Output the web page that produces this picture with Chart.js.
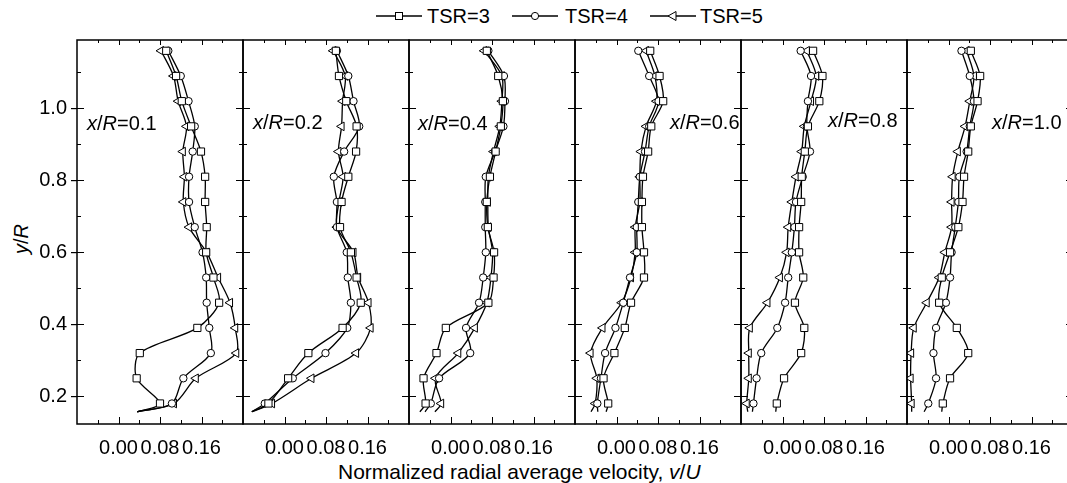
<!DOCTYPE html>
<html>
<head>
<meta charset="utf-8">
<script src="https://cdn.jsdelivr.net/npm/chart.js@4/dist/chart.umd.min.js"></script>
<style>
  html, body { margin: 0; padding: 0; background: #fff; }
  #wrap { position: relative; width: 1067px; height: 483px; overflow: hidden;
          font-family: "Liberation Sans", Arial, sans-serif; color: #000; }
  #wrap canvas { position: absolute; top: 0; }
  .txt { position: absolute; white-space: nowrap; font-size: 20px; line-height: 20px; }
  .leg { position: absolute; top: 6px; height: 20px; white-space: nowrap; font-size: 20px; line-height: 20px; }
  .leg svg { position: absolute; left: 0; top: 4px; }
  .leg span { position: absolute; top: 0; }
</style>
</head>
<body>
<div id="wrap">
  <div class="leg" style="left:376px">
    <svg width="48" height="12"><line x1="0" y1="6" x2="46" y2="6" stroke="#000" stroke-width="1.3"/><rect x="19.5" y="2.5" width="7" height="7" fill="#fff" stroke="#000"/></svg>
    <span style="left:51px">TSR=3</span>
  </div>
  <div class="leg" style="left:512px">
    <svg width="48" height="12"><line x1="0" y1="6" x2="46" y2="6" stroke="#000" stroke-width="1.3"/><circle cx="23" cy="6" r="3.6" fill="#fff" stroke="#000"/></svg>
    <span style="left:53px">TSR=4</span>
  </div>
  <div class="leg" style="left:650px">
    <svg width="48" height="12"><line x1="0" y1="6" x2="46" y2="6" stroke="#000" stroke-width="1.3"/><polygon points="18,6 26,1.5 26,10.5" fill="#fff" stroke="#000"/></svg>
    <span style="left:50px">TSR=5</span>
  </div>

  <div class="txt" style="left:11px;top:244px;transform:translate(0,-50%) rotate(-90deg);transform-origin:10px 50%;"><i>y</i>/<i>R</i></div>
  <div class="txt" style="left:338px;top:461px;font-size:21px;line-height:21px;">Normalized radial average velocity, <i>v</i>/<i>U</i></div>
</div>

<script>
// y/R stations shared by every profile (first entry is the unmarked end of each curve)
const yLevels = [0.157, 0.18, 0.25, 0.32, 0.39, 0.46, 0.53, 0.60, 0.67, 0.74, 0.81, 0.88, 0.95, 1.02, 1.09, 1.16];

// radial average velocity v/U, bottom to top, one array per downstream station and tip speed ratio
const tsr3_x01 = [0.036, 0.080, 0.035, 0.041, 0.152, 0.194, 0.183, 0.169, 0.170, 0.167, 0.167, 0.159, 0.140, 0.122, 0.111, 0.092];
const tsr4_x01 = [0.036, 0.103, 0.125, 0.178, 0.175, 0.170, 0.169, 0.162, 0.147, 0.136, 0.136, 0.143, 0.147, 0.135, 0.120, 0.096];
const tsr5_x01 = [0.036, 0.107, 0.149, 0.227, 0.225, 0.215, 0.192, 0.170, 0.136, 0.125, 0.127, 0.124, 0.131, 0.115, 0.106, 0.082];

const tsr3_x02 = [-0.063, -0.031, 0.007, 0.046, 0.112, 0.147, 0.139, 0.128, 0.107, 0.110, 0.123, 0.138, 0.139, 0.119, 0.105, 0.099];
const tsr4_x02 = [-0.063, -0.038, 0.016, 0.079, 0.121, 0.128, 0.122, 0.120, 0.101, 0.101, 0.095, 0.115, 0.144, 0.133, 0.123, 0.101];
const tsr5_x02 = [-0.063, -0.024, 0.052, 0.138, 0.166, 0.162, 0.142, 0.133, 0.101, 0.105, 0.113, 0.104, 0.110, 0.112, 0.117, 0.094];

const tsr3_x04 = [-0.059, -0.048, -0.052, -0.027, -0.009, 0.073, 0.083, 0.084, 0.072, 0.070, 0.076, 0.087, 0.097, 0.101, 0.092, 0.070];
const tsr4_x04 = [-0.049, -0.038, -0.022, 0.038, 0.030, 0.055, 0.063, 0.068, 0.067, 0.067, 0.068, 0.086, 0.102, 0.105, 0.103, 0.073];
const tsr5_x04 = [-0.030, -0.018, -0.029, 0.015, 0.047, 0.070, 0.078, 0.081, 0.073, 0.072, 0.073, 0.083, 0.095, 0.099, 0.099, 0.065];

const tsr3_x06 = [-0.020, -0.016, -0.025, -0.004, 0.016, 0.028, 0.053, 0.053, 0.049, 0.049, 0.051, 0.061, 0.067, 0.090, 0.083, 0.065];
const tsr4_x06 = [-0.036, -0.037, -0.030, -0.022, -0.002, 0.013, 0.026, 0.039, 0.039, 0.042, 0.045, 0.055, 0.063, 0.081, 0.063, 0.042];
const tsr5_x06 = [-0.049, -0.041, -0.038, -0.050, -0.027, 0.010, 0.028, 0.036, 0.036, 0.045, 0.045, 0.047, 0.057, 0.077, 0.074, 0.057];

const tsr3_x08 = [-0.013, -0.011, 0.003, 0.036, 0.042, 0.024, 0.040, 0.032, 0.032, 0.036, 0.037, 0.043, 0.049, 0.071, 0.077, 0.059];
const tsr4_x08 = [-0.058, -0.056, -0.050, -0.041, -0.010, 0.005, 0.011, 0.018, 0.023, 0.026, 0.039, 0.053, 0.047, 0.049, 0.055, 0.035];
const tsr5_x08 = [-0.067, -0.069, -0.065, -0.065, -0.063, -0.029, -0.005, 0.008, 0.011, 0.018, 0.026, 0.037, 0.042, 0.055, 0.065, 0.047];

const tsr3_x10 = [-0.013, -0.011, 0.003, 0.038, 0.016, -0.018, -0.013, 0.003, 0.019, 0.027, 0.030, 0.038, 0.043, 0.056, 0.061, 0.043];
const tsr4_x10 = [-0.047, -0.039, -0.024, -0.029, -0.024, -0.005, 0.003, 0.006, 0.013, 0.019, 0.021, 0.035, 0.041, 0.049, 0.041, 0.025];
const tsr5_x10 = [-0.071, -0.071, -0.073, -0.072, -0.067, -0.042, -0.018, -0.007, 0.006, 0.006, 0.008, 0.018, 0.032, 0.041, 0.049, 0.035];

const seriesNames = ['TSR=3', 'TSR=4', 'TSR=5'];
const stationLabels = ['0.1', '0.2', '0.4', '0.6', '0.8', '1.0'];
const panelSeries = [
  [tsr3_x01, tsr4_x01, tsr5_x01],
  [tsr3_x02, tsr4_x02, tsr5_x02],
  [tsr3_x04, tsr4_x04, tsr5_x04],
  [tsr3_x06, tsr4_x06, tsr5_x06],
  [tsr3_x08, tsr4_x08, tsr5_x08],
  [tsr3_x10, tsr4_x10, tsr5_x10]
];

const xTickValues = [0, 0.08, 0.16];
const xTickLabels = ['0.00', '0.08', '0.16'];
const yTickValues = [0.2, 0.4, 0.6, 0.8, 1.0];
const yTickLabels = ['0.2', '0.4', '0.6', '0.8', '1.0'];

// layout of the six side-by-side panels
const PANEL_W = 166, FIRST_LEFT = 77, TOP = 40, AXIS_H = 59, H = 483, SIDE = 20;
const labelOffsets = [[10, 130], [10, 129], [9, 130], [95, 129], [87, 127], [85, 129]];
const markerStyles = [
  { pointStyle: 'rect', radius: 5.1, rotation: 0 },
  { pointStyle: 'circle', radius: 3.7, rotation: 0 },
  { pointStyle: 'triangle', radius: 5, rotation: -90 }
];
const FONT = '"Liberation Sans", Arial, sans-serif';

// frame plus inward tick marks on all four sides of a panel
const frameTicks = {
  id: 'frameTicks',
  afterDatasetsDraw(chart) {
    const { ctx, chartArea: a, scales: { x, y } } = chart;
    ctx.save();
    ctx.strokeStyle = '#000';
    ctx.lineWidth = 1;
    ctx.beginPath();
    for (let k = -1; k <= 5; k++) {
      const px = Math.round(x.getPixelForValue(k * 0.04)) + 0.5;
      const major = k % 2 === 0;
      ctx.moveTo(px, a.bottom); ctx.lineTo(px, a.bottom - (major ? 7 : 4));
      ctx.moveTo(px, a.top); ctx.lineTo(px, a.top + (major ? 5 : 3));
    }
    for (let k = 2; k <= 11; k++) {
      const py = Math.round(y.getPixelForValue(k / 10)) + 0.5;
      const major = k % 2 === 0;
      const len = major ? 7 : 4;
      ctx.moveTo(a.left, py); ctx.lineTo(a.left + len, py);
      ctx.moveTo(a.right, py); ctx.lineTo(a.right - len, py);
    }
    ctx.stroke();
    ctx.lineWidth = 1.5;
    ctx.strokeRect(a.left, a.top, a.right - a.left, a.bottom - a.top);
    ctx.restore();
  }
};

const wrap = document.getElementById('wrap');

panelSeries.forEach((series, i) => {
  const first = i === 0;
  const panelLeft = FIRST_LEFT + i * PANEL_W;
  const canvasLeft = first ? 0 : panelLeft - SIDE;
  const canvasW = (first ? FIRST_LEFT : SIDE) + PANEL_W + SIDE;

  const canvas = document.createElement('canvas');
  canvas.width = canvasW;
  canvas.height = H;
  canvas.style.left = canvasLeft + 'px';
  canvas.style.width = canvasW + 'px';
  canvas.style.height = H + 'px';
  wrap.appendChild(canvas);

  const lab = document.createElement('div');
  lab.className = 'txt';
  lab.style.left = (panelLeft + labelOffsets[i][0]) + 'px';
  lab.style.top = (labelOffsets[i][1] - 17) + 'px';
  lab.innerHTML = '<i>x</i>/<i>R</i>=' + stationLabels[i];
  wrap.appendChild(lab);

  const datasets = series.map((vals, s) => ({
    label: seriesNames[s],
    data: yLevels.map((yv, k) => ({ x: vals[k], y: yv })),
    showLine: true,
    borderColor: '#000',
    borderWidth: 1.3,
    tension: 0.3,
    pointStyle: markerStyles[s].pointStyle,
    pointRotation: markerStyles[s].rotation,
    pointRadius: (c) => (c.dataIndex === 0 ? 0 : markerStyles[s].radius),
    pointBackgroundColor: '#fff',
    pointBorderColor: '#000',
    pointBorderWidth: 1
  }));

  new Chart(canvas, {
    type: 'scatter',
    data: { datasets },
    options: {
      responsive: false,
      animation: false,
      devicePixelRatio: 1,
      layout: { padding: { top: TOP, bottom: 0, left: first ? 0 : SIDE, right: SIDE } },
      plugins: { legend: { display: false }, tooltip: { enabled: false } },
      scales: {
        x: {
          type: 'linear',
          min: -0.08,
          max: 0.24,
          afterFit: (s) => { s.height = AXIS_H; },
          border: { display: false },
          grid: { display: false },
          ticks: {
            stepSize: 0.04,
            autoSkip: false,
            maxRotation: 0,
            minRotation: 0,
            padding: 4,
            color: '#000',
            font: { family: FONT, size: 20 },
            callback: (v) => {
              const idx = xTickValues.findIndex((t) => Math.abs(t - v) < 1e-6);
              return idx >= 0 ? xTickLabels[idx] : '';
            }
          }
        },
        y: {
          type: 'linear',
          display: first,
          min: 0.123,
          max: 1.19,
          afterFit: (s) => { s.width = first ? FIRST_LEFT : 0; },
          border: { display: false },
          grid: { drawOnChartArea: false, drawTicks: true, tickLength: 6, color: '#000', lineWidth: 1.2 },
          ticks: {
            stepSize: 0.2,
            includeBounds: false,
            padding: 4,
            color: '#000',
            font: { family: FONT, size: 20 },
            callback: (v) => {
              const idx = yTickValues.findIndex((t) => Math.abs(t - v) < 1e-6);
              return idx >= 0 ? yTickLabels[idx] : '';
            }
          }
        }
      }
    },
    plugins: [frameTicks]
  });
});
</script>
</body>
</html>
